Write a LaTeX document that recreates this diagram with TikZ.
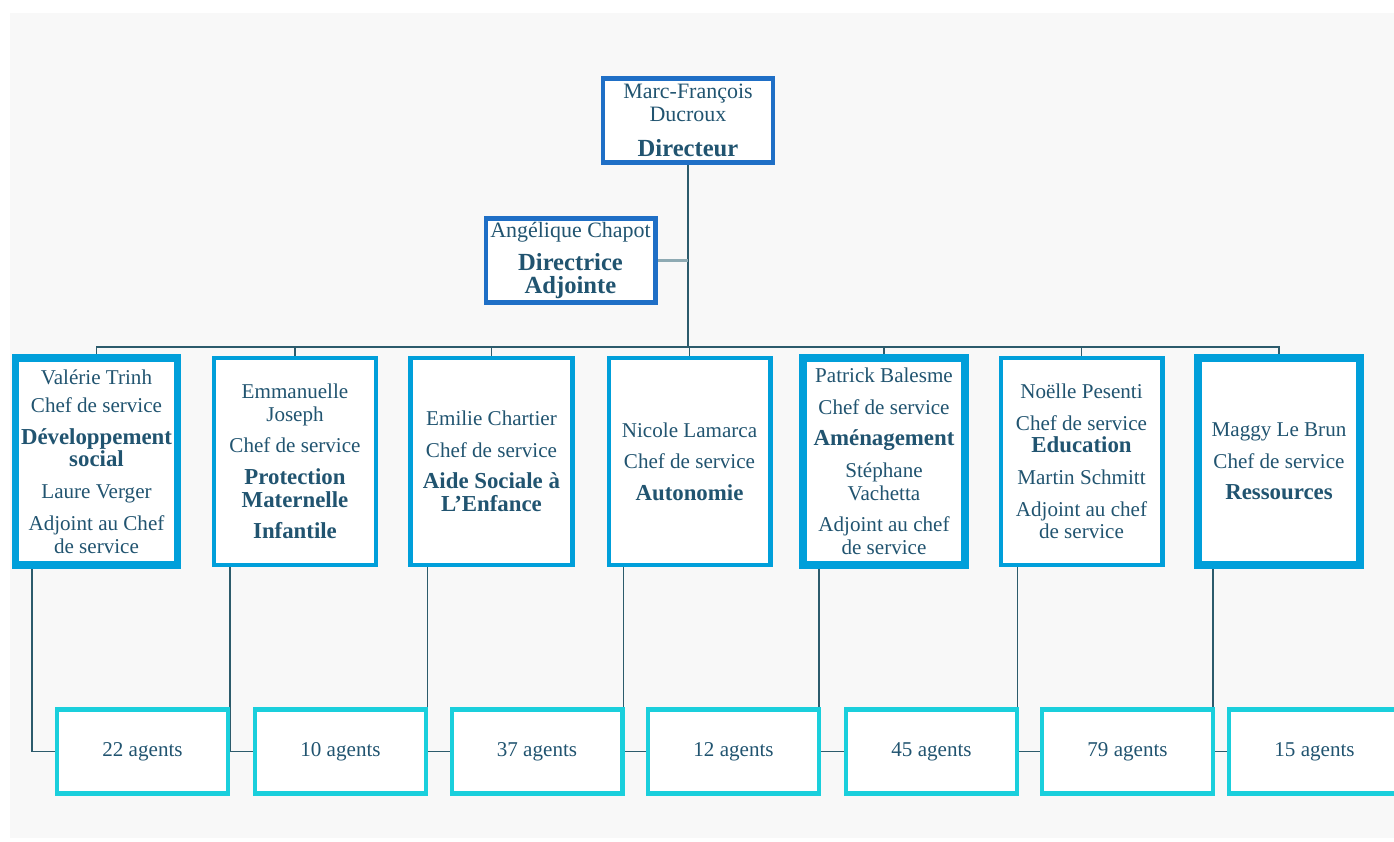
\documentclass[tikz,border=0pt]{standalone}
\usepackage{fontspec}
\setmainfont{Liberation Serif}
\usepackage{xcolor}
\usetikzlibrary{backgrounds}

\definecolor{headblue}{HTML}{1F6FC6}
\definecolor{servblue}{HTML}{009FDA}
\definecolor{agentcyan}{HTML}{1ACFDC}
\definecolor{inktext}{HTML}{215470}
\definecolor{linkteal}{HTML}{2C5B6C}
\definecolor{sidegray}{HTML}{8EAAB3}
\definecolor{paper}{HTML}{F8F8F8}

\newcommand{\srv}[1]{{\fontsize{13}{13}\selectfont\bfseries #1}}
\newcommand{\dirrole}[1]{{\fontsize{14}{14}\selectfont\bfseries #1}}

\begin{document}
\begin{tikzpicture}[x=0.02cm, y=-0.02cm,
		every node/.style={text=inktext, font=\fontsize{12}{13}\selectfont, align=center},
		headbox/.style={draw=headblue, line width=2.3pt, fill=white, minimum width=3.4cm, minimum height=1.68cm, inner sep=1pt, font=\fontsize{12.5}{13}\selectfont},
		servbox/.style={draw=servblue, line width=2.3pt, fill=white, minimum width=3.24cm, minimum height=4.15cm, inner sep=1pt},
		servthick/.style={servbox, line width=4.5pt},
		agentbox/.style={draw=agentcyan, line width=2.3pt, fill=white, minimum width=3.42cm, minimum height=1.68cm},
		link/.style={draw=linkteal, line width=1.1pt},
		sidelink/.style={draw=sidegray, line width=1.7pt}]
		
		\useasboundingbox (0,0) rectangle (1394,842);
		
		% direction
		\node [headbox] (dir) at (688,120.5) {Marc-François\\ Ducroux\\[7pt] \dirrole{Directeur}};
		\node [headbox] (adj) at (570.5,260.5) {Angélique Chapot\\[6pt] \dirrole{Directrice}\\ \dirrole{Adjointe}};
		
		\coordinate (bus) at (688,347);
		
		% services
		\node [servthick] (s1) at (96.5,461.5) {Valérie Trinh\\[3pt] Chef de service\\[5pt] \srv{Développement}\\ \srv{social}\\[5pt] Laure Verger\\[5pt] Adjoint au Chef\\ de service};
		\node [servbox] (s2) at (295,461.5) {Emmanuelle\\ Joseph\\[5pt] Chef de service\\[5pt] \srv{Protection}\\ \srv{Maternelle}\\[5pt] \srv{Infantile}};
		\node [servbox] (s3) at (491.5,461.5) {Emilie Chartier\\[5pt] Chef de service\\[5pt] \srv{Aide Sociale à}\\ \srv{L’Enfance}};
		\node [servbox] (s4) at (689.5,461.5) {Nicole Lamarca\\[5pt] Chef de service\\[5pt] \srv{Autonomie}};
		\node [servthick] (s5) at (884,461.5) {Patrick Balesme\\[5pt] Chef de service\\[5pt] \srv{Aménagement}\\[5pt] Stéphane\\ Vachetta\\[5pt] Adjoint au chef\\ de service};
		\node [servbox] (s6) at (1081.5,461.5) {Noëlle Pesenti\\[5pt] Chef de service\\ \srv{Education}\\[5pt] Martin Schmitt\\[5pt] Adjoint au chef\\ de service};
		\node [servthick] (s7) at (1279,461.5) {Maggy Le Brun\\[5pt] Chef de service\\[5pt] \srv{Ressources}};
		
		% agents
		\node [agentbox] (a1) at (142.5,751.5) {22 agents};
		\node [agentbox] (a2) at (340.5,751.5) {10 agents};
		\node [agentbox] (a3) at (537,751.5) {37 agents};
		\node [agentbox] (a4) at (733.5,751.5) {12 agents};
		\node [agentbox] (a5) at (931.5,751.5) {45 agents};
		\node [agentbox] (a6) at (1127.5,751.5) {79 agents};
		\node [agentbox] (a7) at (1314.5,751.5) {15 agents};
		
		\begin{scope}[on background layer]
			\fill [paper] (10,13) rectangle (1394,838);
			
			\draw [link] (dir.south) -- (bus);
			\draw [sidelink] (adj.east) -- (adj.east -| bus);
			
			\draw [link] (bus) -| (s1.north);
			\draw [link] (bus) -| (s2.north);
			\draw [link] (bus) -| (s3.north);
			\draw [link] (bus) -| (s4.north);
			\draw [link] (bus) -| (s5.north);
			\draw [link] (bus) -| (s6.north);
			\draw [link] (bus) -| (s7.north);
			
			\draw [link] ([xshift=0.4cm]s1.south west) |- (a1.west);
			\draw [link] ([xshift=0.36cm]s2.south west) |- (a2.west);
			\draw [link] ([xshift=0.38cm]s3.south west) |- (a3.west);
			\draw [link] ([xshift=0.34cm]s4.south west) |- (a4.west);
			\draw [link] ([xshift=0.4cm]s5.south west) |- (a5.west);
			\draw [link] ([xshift=0.38cm]s6.south west) |- (a6.west);
			\draw [link] ([xshift=0.38cm]s7.south west) |- (a7.west);
		\end{scope}
	\end{tikzpicture}
\end{document}
